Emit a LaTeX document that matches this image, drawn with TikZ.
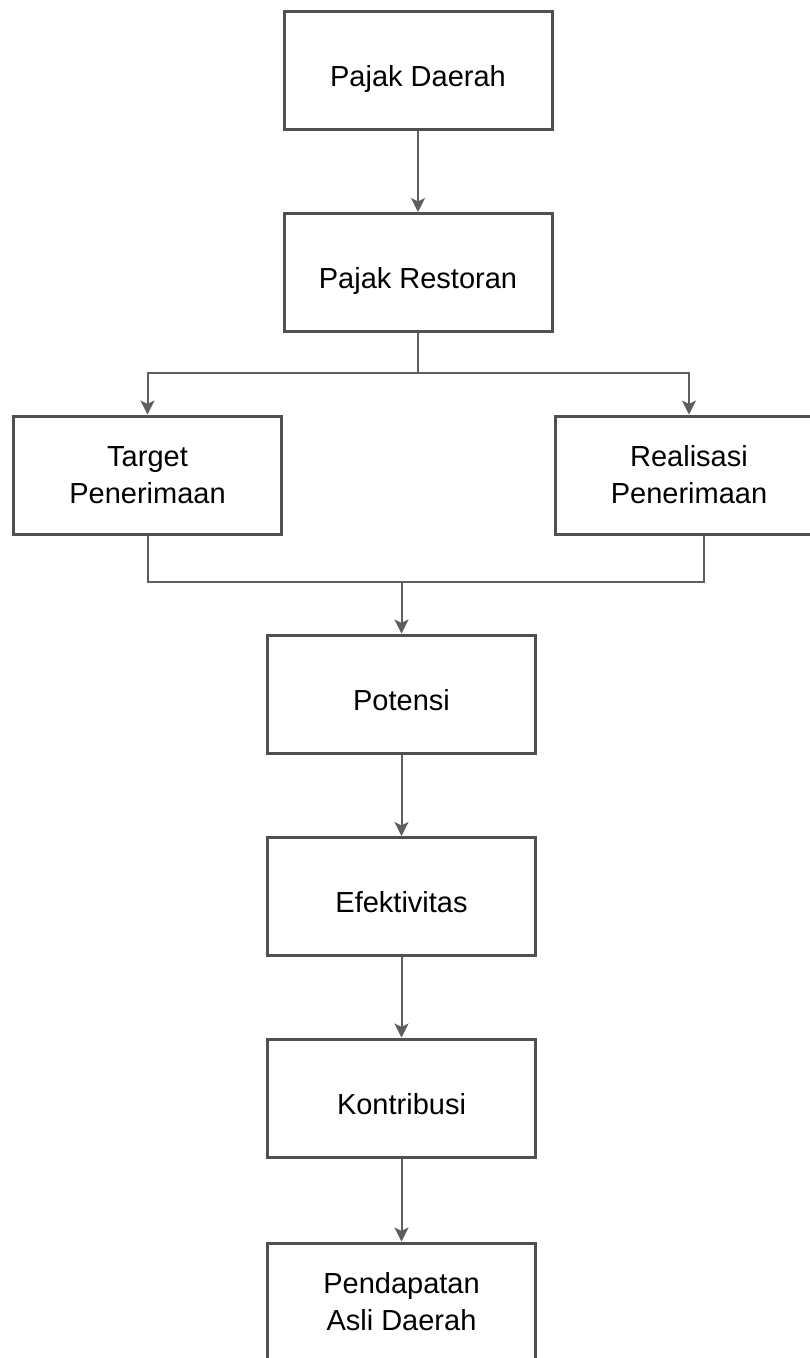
\documentclass[tikz,border=0pt]{standalone}
\usepackage{fontspec}
\setmainfont{Liberation Sans}
\usetikzlibrary{arrows.meta}
\definecolor{boxgray}{HTML}{505050}
\definecolor{linegray}{HTML}{5E5E5E}
\begin{document}
\begin{tikzpicture}[x=1pt,y=-1pt,
  box/.style={draw=boxgray, line width=3pt, fill=white, minimum width=268pt, minimum height=118pt,
    inner sep=0pt, align=center, font=\fontsize{29}{37}\selectfont, text=black},
  oneline/.style={text height=32pt, text depth=0pt},
  link/.style={draw=linegray, line width=2pt},
  conn/.style={link, -{Stealth[length=14pt,width=14pt,inset=3.5pt]}}]
\useasboundingbox (0,0) rectangle (810,1358);
\clip (0,0) rectangle (810,1358);
\fill[white] (0,0) rectangle (810,1358);

\node[box,oneline] (pd) at (418,70) {Pajak Daerah};
\node[box,oneline] (pr) at (418,272.5) {Pajak Restoran};
\node[box] (tp) at (147.5,475) {Target\\Penerimaan};
\node[box] (rp) at (689,475) {Realisasi\\Penerimaan};
\node[box,oneline] (po) at (401.5,694) {Potensi};
\node[box,oneline] (ef) at (401.5,896.5) {Efektivitas};
\node[box,oneline] (ko) at (401.5,1098) {Kontribusi};
\node[box] (pad) at (401.5,1302) {Pendapatan\\Asli Daerah};

\coordinate (j1) at (418,373);
\coordinate (j2) at (401.5,582);
\coordinate (rs) at (704,536);

\draw[conn] (pd) -- (pr);
\draw[link] (pr.south) -- (j1);
\draw[conn] (j1) -| (tp.north);
\draw[conn] (j1) -| (rp.north);
\draw[link] (tp.south) |- (j2);
\draw[link] (rs) |- (j2);
\draw[conn] (j2) -- (po.north);
\draw[conn] (po) -- (ef);
\draw[conn] (ef) -- (ko);
\draw[conn] (ko) -- (pad);
\end{tikzpicture}
\end{document}
